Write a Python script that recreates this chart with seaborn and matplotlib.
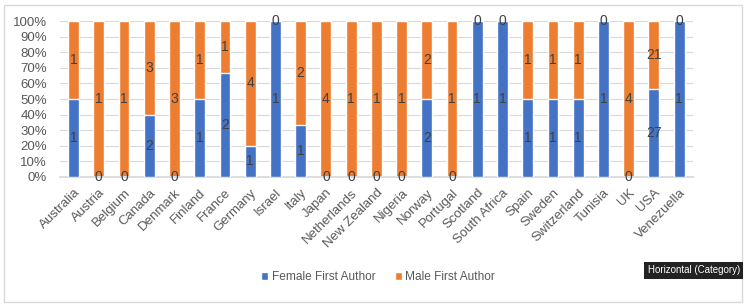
import matplotlib
matplotlib.use("Agg")
import matplotlib.pyplot as plt
import seaborn as sns
import pandas as pd
from matplotlib.patches import Rectangle, Patch

countries = ["Australia", "Austria", "Belgium", "Canada", "Denmark", "Finland", "France",
             "Germany", "Israel", "Italy", "Japan", "Netherlands", "New Zealand", "Nigeria",
             "Norway", "Portugal", "Scotland", "South Africa", "Spain", "Sweden",
             "Switzerland", "Tunisia", "UK", "USA", "Venezuella"]
female = [1, 0, 0, 2, 0, 1, 2, 1, 1, 1, 0, 0, 0, 0, 2, 0, 1, 1, 1, 1, 1, 1, 0, 27, 1]
male = [1, 1, 1, 3, 3, 1, 1, 4, 0, 2, 4, 1, 1, 1, 2, 1, 0, 0, 1, 1, 1, 0, 4, 21, 0]

BLUE = "#4472C4"
ORANGE = "#ED7D31"
TXT = "#595959"

df = pd.DataFrame({"country": countries, "female": female, "male": male})
df["total"] = df["female"] + df["male"]
df["fpct"] = df["female"] / df["total"] * 100
df["all"] = 100.0

sns.set_theme(style="white")
plt.rcParams["font.family"] = ["Liberation Sans", "DejaVu Sans"]

fig = plt.figure(figsize=(7.46, 3.07), dpi=100)
ax = fig.add_axes([0.080, 0.4235, 0.849, 0.508])

sns.barplot(data=df, x="country", y="all", color=ORANGE, width=0.43, ax=ax,
            saturation=1, zorder=2)
sns.barplot(data=df, x="country", y="fpct", color=BLUE, width=0.43, ax=ax,
            saturation=1, zorder=3)

ax.set_ylim(0, 100)
ax.set_xlim(-0.55, len(countries) - 0.45)
ax.set_yticks(range(0, 101, 10))
ax.set_yticklabels([f"{v}%" for v in range(0, 101, 10)], color=TXT, fontsize=9.5)
ax.yaxis.grid(True, color="#D9D9D9", linewidth=0.8, zorder=0)
ax.set_axisbelow(True)
for s in ["top", "right", "left"]:
    ax.spines[s].set_visible(False)
ax.spines["bottom"].set_color("#D9D9D9")
ax.tick_params(axis="both", length=0)
ax.tick_params(axis="y", pad=9)
ax.set_xlabel("")
ax.set_ylabel("")
ax.set_xticks(range(len(countries)))
ax.set_xticklabels(countries, rotation=45, ha="right", rotation_mode="anchor",
                   color=TXT, fontsize=9.5)
ax.tick_params(axis="x", pad=7)

for i, (f, m, fp) in enumerate(zip(df["female"], df["male"], df["fpct"])):
    fy = fp / 2 if f > 0 else 0
    my = fp + (100 - fp) / 2 if m > 0 else 100
    ax.text(i, fy, str(f), ha="center", va="center", fontsize=10, color="#404040", zorder=5)
    ax.text(i, my, str(m), ha="center", va="center", fontsize=10, color="#404040", zorder=5)

handles = [Patch(facecolor=BLUE, label="Female First Author"),
           Patch(facecolor=ORANGE, label="Male First Author")]
fig.legend(handles=handles, loc="center", bbox_to_anchor=(0.507, 0.097), ncol=2,
           frameon=False, fontsize=8.6, handlelength=0.6, handleheight=0.6,
           columnspacing=1.6, handletextpad=0.3, labelcolor=TXT)

fig.patches.append(Rectangle((0.006, 0.016), 0.988, 0.968, transform=fig.transFigure,
                             fill=False, edgecolor="#D9D9D9", linewidth=1))

fig.text(0.992, 0.119, "Horizontal (Category)", ha="right", va="center",
         fontsize=7.0, color="white",
         bbox=dict(boxstyle="square,pad=0.35", facecolor="#222222", edgecolor="none"))

fig.savefig("out.png", dpi=100, facecolor="white")
